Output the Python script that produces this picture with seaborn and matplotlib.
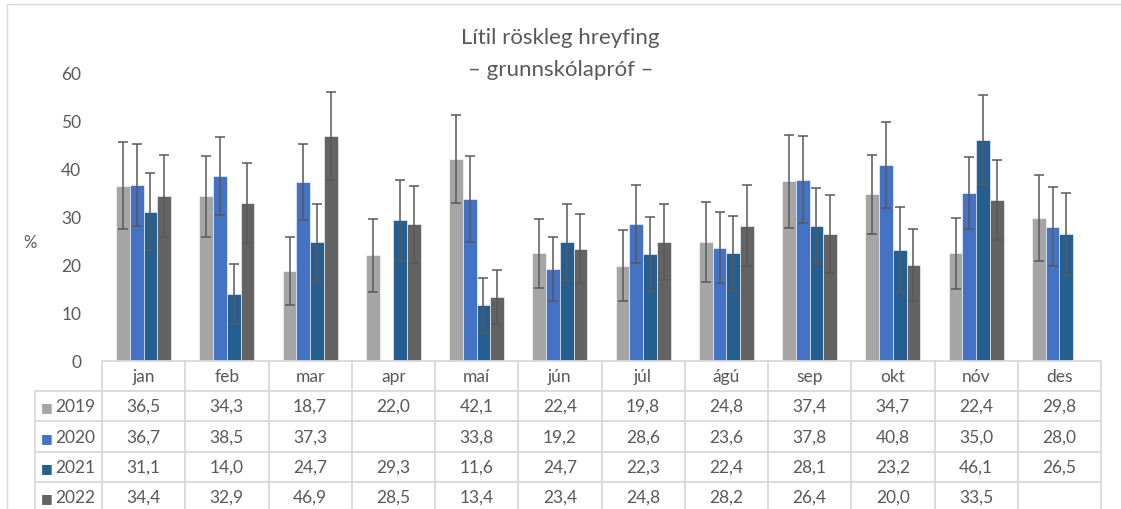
import numpy as np
import pandas as pd
import matplotlib.pyplot as plt
import matplotlib.transforms as mtransforms
from matplotlib.patches import Rectangle
from matplotlib.lines import Line2D
import seaborn as sns

months = ['jan', 'feb', 'mar', 'apr', 'maí', 'jún', 'júl', 'ágú', 'sep', 'okt', 'nóv', 'des']
years = ['2019', '2020', '2021', '2022']

v2019 = [36.5, 34.3, 18.7, 22.0, 42.1, 22.4, 19.8, 24.8, 37.4, 34.7, 22.4, 29.8]
v2020 = [36.7, 38.5, 37.3, np.nan, 33.8, 19.2, 28.6, 23.6, 37.8, 40.8, 35.0, 28.0]
v2021 = [31.1, 14.0, 24.7, 29.3, 11.6, 24.7, 22.3, 22.4, 28.1, 23.2, 46.1, 26.5]
v2022 = [34.4, 32.9, 46.9, 28.5, 13.4, 23.4, 24.8, 28.2, 26.4, 20.0, 33.5, np.nan]

# half-width of the error bars
e2019 = [9.1, 8.5, 7.1, 7.6, 9.2, 7.1, 7.4, 8.3, 9.6, 8.2, 7.3, 8.9]
e2020 = [8.6, 8.1, 8.0, np.nan, 9.0, 6.6, 8.1, 7.4, 9.0, 8.9, 7.6, 8.3]
e2021 = [8.0, 6.2, 8.0, 8.4, 5.7, 8.0, 7.8, 7.9, 7.9, 8.9, 9.4, 8.5]
e2022 = [8.5, 8.4, 9.1, 8.0, 5.6, 7.2, 8.0, 8.5, 8.1, 7.6, 8.3, np.nan]

colors = ['#A5A5A5', '#4472C4', '#255E91', '#636363']
text_col = '#595959'
grid_col = '#D9D9D9'

values = {'2019': v2019, '2020': v2020, '2021': v2021, '2022': v2022}
errors = {'2019': e2019, '2020': e2020, '2021': e2021, '2022': e2022}

df = pd.DataFrame({
    'month': months * 4,
    'year': np.repeat(years, 12),
    'value': v2019 + v2020 + v2021 + v2022,
})

sns.set_style('white')
plt.rcParams['font.family'] = ['Lato', 'DejaVu Sans']

W, H = 1121, 510
fig = plt.figure(figsize=(W / 100, H / 100), dpi=100)
ax = fig.add_axes([102 / W, 148 / H, 999 / W, 288 / H])

sns.barplot(data=df, x='month', y='value', hue='year', hue_order=years,
            order=months, palette=colors, saturation=1, width=0.66,
            errorbar=None, legend=False, ax=ax, edgecolor='white', linewidth=0.4)

for cont, yr in zip(ax.containers, years):
    for bar in cont:
        h = bar.get_height()
        if np.isnan(h):
            continue
        xc = bar.get_x() + bar.get_width() / 2
        i = int(round(xc))
        ax.errorbar(xc, h, yerr=errors[yr][i], fmt='none', ecolor='#595959',
                    elinewidth=1.1, capsize=3.8, capthick=1.1)

ax.set_xlim(-0.5, 11.5)
ax.set_ylim(0, 60)
ax.set_yticks(range(0, 61, 10))
ax.set_xticks([])
ax.set_xlabel('')
ax.set_ylabel('')
ax.tick_params(axis='y', length=0, labelsize=12.5, labelcolor=text_col, pad=15)
for s in ax.spines.values():
    s.set_visible(False)

fig.text(30 / W, 1 - 243 / H, '%', fontsize=12, color=text_col, ha='center', va='center')
fig.text(0.5, 1 - 38 / H, 'Lítil röskleg hreyfing', fontsize=16, color=text_col,
         ha='center', va='center')
fig.text(0.5, 1 - 70 / H, '– grunnskólapróf –', fontsize=16, color=text_col,
         ha='center', va='center')

# chart border
fig.patches.append(Rectangle((7 / W, -0.1), 1.2, 1 - 5 / H + 0.1, transform=fig.transFigure,
                             fill=False, edgecolor=grid_col, linewidth=1))

# data table below the axis
tb = mtransforms.blended_transform_factory(ax.transData, fig.transFigure)
fy = lambda p: 1 - p / H
row_lines = [362, 392, 422, 453, 483]
row_mid = [407, 438, 468, 498]

for k in range(13):
    ax.add_line(Line2D([k - 0.5, k - 0.5], [fy(362), fy(520)], transform=tb,
                       color=grid_col, lw=1.3, clip_on=False))
ax.add_line(Line2D([-0.5, 11.5], [fy(362), fy(362)], transform=tb,
                   color=grid_col, lw=1.3, clip_on=False))
for yl in row_lines[1:]:
    fig.add_artist(Line2D([35 / W, 1101 / W], [fy(yl), fy(yl)], color=grid_col, lw=1.3))
fig.add_artist(Line2D([35 / W, 35 / W], [fy(392), fy(520)], color=grid_col, lw=1.3))

for i, m in enumerate(months):
    ax.text(i, fy(377), m, transform=tb, ha='center', va='center',
            fontsize=12.5, color=text_col, clip_on=False)

for r, yr in enumerate(years):
    fig.text(47 / W, fy(row_mid[r]), '■', fontsize=9, color=colors[r], ha='center', va='center')
    fig.text(55 / W, fy(row_mid[r]), yr, fontsize=12.5, color=text_col, ha='left', va='center')
    for i, v in enumerate(values[yr]):
        if np.isnan(v):
            continue
        ax.text(i, fy(row_mid[r]), f'{v:.1f}'.replace('.', ','), transform=tb,
                ha='center', va='center', fontsize=12.5, color=text_col, clip_on=False)

fig.savefig('out.png', dpi=100)
